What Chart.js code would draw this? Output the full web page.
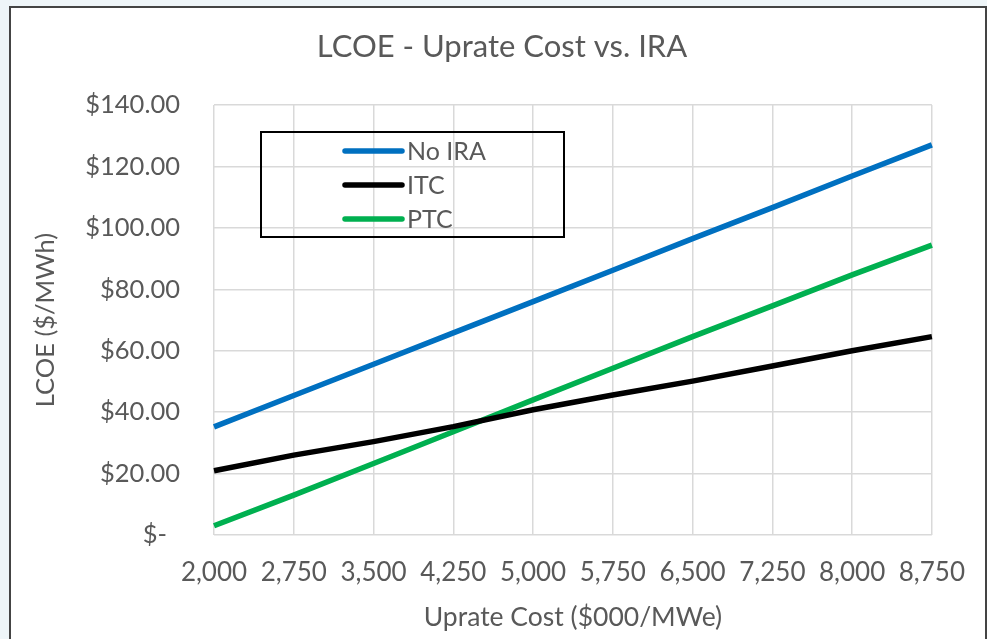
<!DOCTYPE html>
<html>
<head>
<meta charset="utf-8">
<script src="https://cdn.jsdelivr.net/npm/chart.js@4.4.1/dist/chart.umd.min.js"></script>
<style>
  html, body { margin: 0; padding: 0; background: #eef5f8; overflow: hidden; }
  #frame {
    position: absolute; left: 9px; top: 6px; width: 974px; height: 660px;
    background: #fff; border: 2px solid #444;
  }
  #wrap { position: absolute; left: 0; top: 0; width: 987px; height: 639px; }
</style>
</head>
<body>
<div id="frame"></div>
<div id="wrap"><canvas id="chart" width="987" height="639"></canvas></div>
<script>
// Uprate cost ($000/MWe) on the x axis
const costLabels = ["2,000", "2,750", "3,500", "4,250", "5,000", "5,750", "6,500", "7,250", "8,000", "8,750"];

// LCOE ($/MWh)
const noIra = [35.2, 45.4, 55.6, 65.8, 76.0, 86.2, 96.5, 106.6, 116.9, 127.0];
const itc = [20.9, 26.0, 30.4, 35.3, 40.8, 45.6, 50.1, 55.0, 60.0, 64.6];
const ptc = [3.0, 13.0, 23.3, 33.6, 44.0, 54.3, 64.6, 74.6, 84.7, 94.4];

const seriesNames = ["No IRA", "ITC", "PTC"];
const seriesColors = ["#0070c0", "#000000", "#00b050"];

const yTicks = [0, 20, 40, 60, 80, 100, 120, 140];

const FONT = "Lato";
const TEXT = "#595959";

// title + boxed legend drawn by hand, Excel style
const excelBits = {
  id: "excelBits",
  afterDraw(chart) {
    const ctx = chart.ctx;
    ctx.save();
    ctx.fillStyle = TEXT;
    ctx.font = `31px ${FONT}`;
    ctx.textAlign = "center";
    ctx.textBaseline = "middle";
    ctx.fillText("LCOE - Uprate Cost vs. IRA", 502, 47);

    // legend box
    ctx.strokeStyle = "#000";
    ctx.lineWidth = 2;
    ctx.strokeRect(261, 132, 303, 105);
    ctx.font = `25px ${FONT}`;
    ctx.textAlign = "left";
    chart.data.datasets.forEach((ds, i) => {
      const y = 151 + i * 34;
      ctx.strokeStyle = ds.borderColor;
      ctx.lineWidth = 5.5;
      ctx.lineCap = "round";
      ctx.beginPath();
      ctx.moveTo(345, y);
      ctx.lineTo(402, y);
      ctx.stroke();
      ctx.fillStyle = TEXT;
      ctx.fillText(ds.label, 407, y + 1);
    });
    ctx.restore();
  },
};

new Chart(document.getElementById("chart"), {
  type: "line",
  data: {
    labels: costLabels,
    datasets: [noIra, itc, ptc].map((data, i) => ({
      label: seriesNames[i],
      data,
      borderColor: seriesColors[i],
      backgroundColor: "transparent",
      borderWidth: 5.5,
      pointRadius: 0,
      tension: 0,
    })),
  },
  options: {
    responsive: false,
    animation: false,
    layout: { padding: { left: 0, right: 54, top: 105, bottom: 0 } },
    plugins: {
      legend: { display: false },
      title: { display: false },
      tooltip: { enabled: false },
    },
    scales: {
      x: {
        offset: false,
        grid: { color: "#d9d9d9", lineWidth: 1.5, drawTicks: false },
        border: { display: false },
        ticks: { color: TEXT, font: { family: FONT, size: 26 }, padding: 22, maxRotation: 0, autoSkip: false },
        title: { display: true, text: "Uprate Cost ($000/MWe)", color: TEXT, font: { family: FONT, size: 26.5 }, padding: { top: 0, bottom: 6 } },
        afterFit(scale) { scale.height = 104; },
      },
      y: {
        min: 0,
        max: 140,
        afterBuildTicks(scale) { scale.ticks = yTicks.map((v) => ({ value: v })); },
        grid: { color: "#d9d9d9", lineWidth: 1.5, drawTicks: false },
        border: { display: false },
        ticks: {
          color: TEXT,
          font: { family: FONT, size: 25.5 },
          padding: 34,
          callback: (v) => (v === 0 ? "$-  " : "$" + v.toFixed(2)),
        },
        title: { display: true, text: "LCOE ($/MWh)", color: TEXT, font: { family: FONT, size: 25.5 }, padding: { top: 30, bottom: 0 } },
        afterFit(scale) { scale.width = 214; },
      },
    },
  },
  plugins: [excelBits],
});
</script>
</body>
</html>
